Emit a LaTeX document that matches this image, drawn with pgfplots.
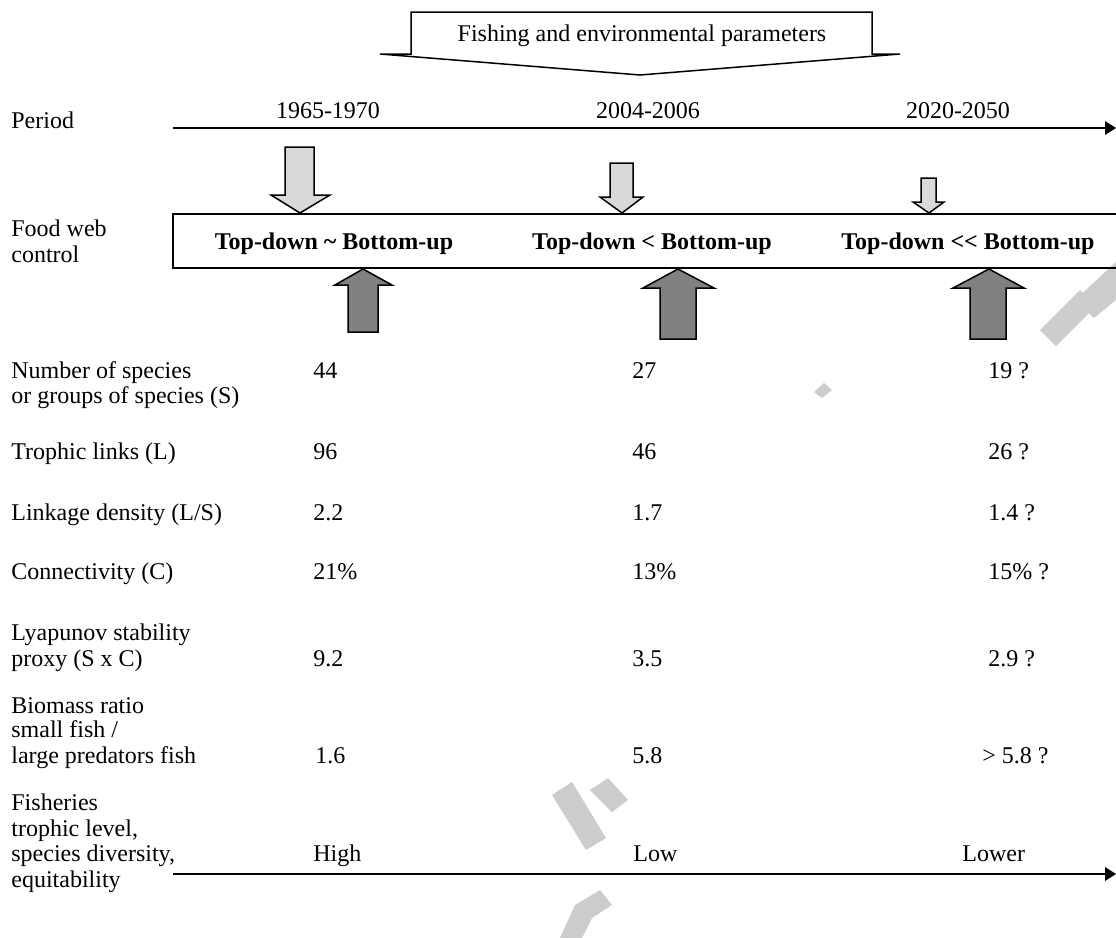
\documentclass[border=0pt]{standalone}
\usepackage{fontspec}
\setmainfont{Liberation Serif}
\usepackage{pgfplots}
\pgfplotsset{compat=1.18}
\definecolor{lightarr}{RGB}{217,217,217}
\definecolor{darkarr}{RGB}{128,128,128}
\definecolor{wm}{RGB}{204,204,204}
\newcommand{\tf}{\fontsize{12}{12.8}\selectfont}
\begin{document}
\begin{tikzpicture}[font=\tf]
\begin{axis}[width=558pt,height=469pt,scale only axis,
  xmin=0,xmax=1116,ymin=0,ymax=938,y dir=reverse,
  hide axis,clip=false]
% watermark pieces
\fill[wm] (axis cs:1040,330) -- (axis cs:1080,290) -- (axis cs:1096,306) -- (axis cs:1056,346) -- cycle;
\fill[wm] (axis cs:1075,300) -- (axis cs:1116,262) -- (axis cs:1116,300) -- (axis cs:1094,318) -- cycle;
\fill[wm] (axis cs:814,392) -- (axis cs:824,383) -- (axis cs:832,390) -- (axis cs:822,398) -- cycle;
\fill[wm] (axis cs:552,795) -- (axis cs:572,782) -- (axis cs:606,838) -- (axis cs:586,850) -- cycle;
\fill[wm] (axis cs:590,790) -- (axis cs:608,778) -- (axis cs:628,800) -- (axis cs:612,812) -- cycle;
\fill[wm] (axis cs:560,938) -- (axis cs:575,905) -- (axis cs:600,890) -- (axis cs:612,905) -- (axis cs:592,918) -- (axis cs:582,938) -- cycle;
% top arrow
\draw[line width=0.75pt,fill=white] (axis cs:411,12) -- (axis cs:872,12) -- (axis cs:872,54) -- (axis cs:900,54)
  -- (axis cs:640,75) -- (axis cs:380,54) -- (axis cs:411,54) -- cycle;
\node[inner sep=0pt,anchor=base] at (axis cs:642,41) {Fishing and environmental parameters};
% period axis
\draw[line width=0.75pt] (axis cs:173,128) -- (axis cs:1108,128);
\fill (axis cs:1105,121) -- (axis cs:1116,128) -- (axis cs:1105,135) -- cycle;
\node[inner sep=0pt,anchor=base west] at (axis cs:11,128) {Period};
\node[inner sep=0pt,anchor=base] at (axis cs:328,118) {1965-1970};
\node[inner sep=0pt,anchor=base] at (axis cs:648,118) {2004-2006};
\node[inner sep=0pt,anchor=base] at (axis cs:958,118) {2020-2050};
% light down arrows
\draw[line width=0.75pt,fill=lightarr] (axis cs:285,147) -- (axis cs:314,147) -- (axis cs:314,195) -- (axis cs:330,195)
  -- (axis cs:300,213) -- (axis cs:271,195) -- (axis cs:285,195) -- cycle;
\draw[line width=0.75pt,fill=lightarr] (axis cs:610,163) -- (axis cs:633,163) -- (axis cs:633,197) -- (axis cs:643,197)
  -- (axis cs:622,213) -- (axis cs:600,197) -- (axis cs:610,197) -- cycle;
\draw[line width=0.75pt,fill=lightarr] (axis cs:921,178) -- (axis cs:936,178) -- (axis cs:936,202) -- (axis cs:944,202)
  -- (axis cs:929,213) -- (axis cs:913,202) -- (axis cs:921,202) -- cycle;
% control box
\draw[line width=0.75pt] (axis cs:173,214) rectangle (axis cs:1120,268);
\node[inner sep=0pt,anchor=base west] at (axis cs:11,236) {Food web};
\node[inner sep=0pt,anchor=base west] at (axis cs:11,262) {control};
\node[inner sep=0pt,anchor=base,font=\tf\bfseries] at (axis cs:334,249) {Top-down \textasciitilde{} Bottom-up};
\node[inner sep=0pt,anchor=base,font=\tf\bfseries] at (axis cs:652,249) {Top-down < Bottom-up};
\node[inner sep=0pt,anchor=base,font=\tf\bfseries] at (axis cs:968,249) {Top-down <{}< Bottom-up};
% dark up arrows
\draw[line width=0.75pt,fill=darkarr] (axis cs:363,269) -- (axis cs:392,285) -- (axis cs:378,285) -- (axis cs:378,332)
  -- (axis cs:348,332) -- (axis cs:348,285) -- (axis cs:335,285) -- cycle;
\draw[line width=0.75pt,fill=darkarr] (axis cs:678,269) -- (axis cs:714,288) -- (axis cs:696,288) -- (axis cs:696,339)
  -- (axis cs:660,339) -- (axis cs:660,288) -- (axis cs:643,288) -- cycle;
\draw[line width=0.75pt,fill=darkarr] (axis cs:989,269) -- (axis cs:1024,288) -- (axis cs:1006,288) -- (axis cs:1006,339)
  -- (axis cs:970,339) -- (axis cs:970,288) -- (axis cs:953,288) -- cycle;
% row labels
\node[inner sep=0pt,anchor=base west] at (axis cs:11,378) {Number of species};
\node[inner sep=0pt,anchor=base west] at (axis cs:11,403) {or groups of species (S)};
\node[inner sep=0pt,anchor=base west] at (axis cs:11,459) {Trophic links (L)};
\node[inner sep=0pt,anchor=base west] at (axis cs:11,520) {Linkage density (L/S)};
\node[inner sep=0pt,anchor=base west] at (axis cs:11,579) {Connectivity (C)};
\node[inner sep=0pt,anchor=base west] at (axis cs:11,640) {Lyapunov stability};
\node[inner sep=0pt,anchor=base west] at (axis cs:11,666) {proxy (S x C)};
\node[inner sep=0pt,anchor=base west] at (axis cs:11,713) {Biomass ratio};
\node[inner sep=0pt,anchor=base west] at (axis cs:11,737) {small fish /};
\node[inner sep=0pt,anchor=base west] at (axis cs:11,763) {large predators fish};
\node[inner sep=0pt,anchor=base west] at (axis cs:11,810) {Fisheries};
\node[inner sep=0pt,anchor=base west] at (axis cs:11,836) {trophic level,};
\node[inner sep=0pt,anchor=base west] at (axis cs:11,861) {species diversity,};
\node[inner sep=0pt,anchor=base west] at (axis cs:11,887) {equitability};
% values
\addplot[draw=none,mark=none,point meta=explicit symbolic,nodes near coords,
  every node near coord/.append style={anchor=base west,inner sep=0pt,font=\tf}]
  coordinates {
  (313,378) [44] (313,459) [96] (313,520) [2.2] (313,579) [21\%] (313,666) [9.2] (315,763) [1.6] (313,861) [High]
  (632,378) [27] (632,459) [46] (632,520) [1.7] (632,579) [13\%] (632,666) [3.5] (632,763) [5.8] (633,861) [Low]
  (988,378) [19 ?] (988,459) [26 ?] (988,520) [1.4 ?] (988,579) [15\% ?] (988,666) [2.9 ?] (982,763) [> 5.8 ?] (962,861) [Lower]
  };
% bottom axis
\draw[line width=0.75pt] (axis cs:173,874) -- (axis cs:1108,874);
\fill (axis cs:1105,867) -- (axis cs:1116,874) -- (axis cs:1105,881) -- cycle;
\end{axis}
\pgfresetboundingbox
\path (0,0) rectangle (558pt,469pt);
\end{tikzpicture}
\end{document}
